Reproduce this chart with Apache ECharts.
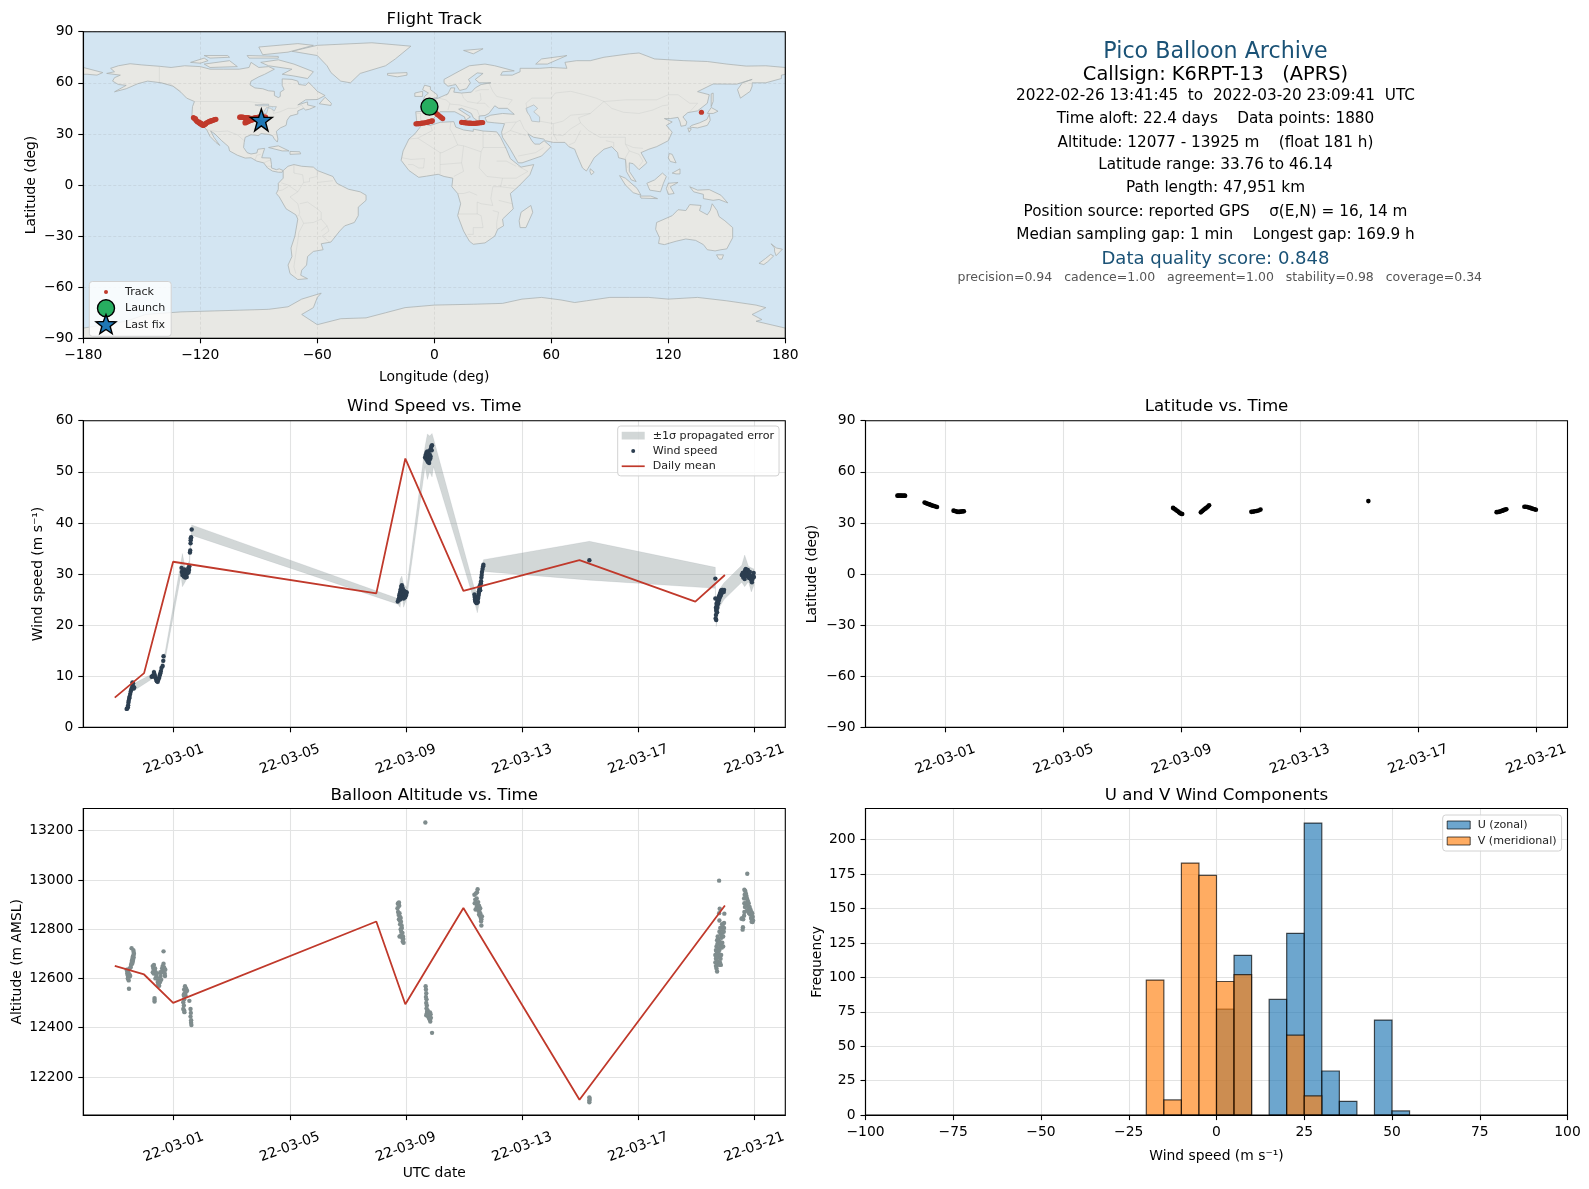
<!DOCTYPE html>
<html><head><meta charset="utf-8">
<style>html,body{margin:0;padding:0;background:#fff}#c{width:1589px;height:1189px}</style>
<script src="https://cdn.jsdelivr.net/npm/echarts@6/dist/echarts.min.js"></script></head>
<body><div id="c"></div>
<script>
// ---------- text ----------
const plotTitles = ['Flight Track','Wind Speed vs. Time','Latitude vs. Time','Balloon Altitude vs. Time','U and V Wind Components'];
const infoLines = ['Pico Balloon Archive','Callsign: K6RPT-13   (APRS)','2022-02-26 13:41:45  to  2022-03-20 23:09:41  UTC','Time aloft: 22.4 days    Data points: 1880','Altitude: 12077 - 13925 m    (float 181 h)','Latitude range: 33.76 to 46.14','Path length: 47,951 km','Position source: reported GPS    σ(E,N) = 16, 14 m','Median sampling gap: 1 min    Longest gap: 169.9 h','Data quality score: 0.848','precision=0.94   cadence=1.00   agreement=1.00   stability=0.98   coverage=0.34'];
const dateTicks = [0,4,8,12,16,20];
const dateLabels = ['22-03-01','22-03-05','22-03-09','22-03-13','22-03-17','22-03-21'];
const altTicks = [12200,12400,12600,12800,13000,13200];
const freqTicks = [0,25,50,75,100,125,150,175,200];

// ---------- map geometry (lon, lat) ----------
const landPolys = [
 [[-168,65.5],[-164,66.5],[-166,68.5],[-162,70],[-156,71.2],[-150,70.5],[-141,69.7],[-135,69],[-128,70],[-120,69.5],[-115,68],[-108,68],[-100,68],[-95,69],[-94,72],[-90,69],[-85,69.5],[-82,68],[-87,65],[-90,63.5],[-94,61],[-94.5,58.8],[-92,57],[-88,56.5],[-85,55.3],[-82,55],[-82,52.5],[-80,51.3],[-79,52],[-79,54.5],[-77,56],[-78,58.5],[-78,62.3],[-73,62],[-70,61],[-69.5,59],[-66,58.5],[-64.5,60.3],[-62,57.5],[-60,55],[-56,52.5],[-60,50.2],[-66,50],[-70,47],[-65,48.8],[-65,47],[-61,46],[-64,44.5],[-66,44],[-67,45],[-70,43.5],[-70,41.7],[-74,40.5],[-75.5,38],[-76,35],[-79,33.5],[-81,31.5],[-80.2,27],[-80.5,25.2],[-82,27],[-83,29],[-85,29.7],[-89,30.2],[-90,29],[-94,29.5],[-97,28],[-97.5,25],[-97.8,22],[-96,19],[-94,18.2],[-91,18.8],[-90.5,21],[-87,21.5],[-88,18],[-88.5,16],[-84,15.8],[-83.5,12],[-83.5,10],[-81,9],[-79.5,9.5],[-77.5,8.5],[-78,7.5],[-80,7.5],[-83,8.2],[-85.5,10],[-87.5,13],[-91,14],[-94,16],[-97,15.8],[-101,17.5],[-105,20],[-105.5,22.5],[-109,26],[-112.5,30],[-114.7,31.7],[-113,28],[-110,23.2],[-112,25],[-115,28.5],[-116.5,32],[-118,34],[-121,35],[-123,38],[-124.3,41],[-124,46],[-123,49],[-127,51],[-130,54.5],[-134,58],[-140,60],[-147,61],[-152,59.5],[-158,56.5],[-164,54.7],[-158,58.5],[-162,59],[-165,61],[-164,63],[-161,64.5]],
 [[-77.5,8.5],[-75,11],[-72,12],[-68,11],[-62,10.5],[-60,8.5],[-52,5],[-50,1],[-44,-2.5],[-38,-4],[-35,-6],[-35,-9],[-39,-13],[-39,-18],[-41,-22],[-46,-24],[-48.5,-27],[-53,-33.5],[-58,-34.5],[-57,-38],[-62,-39],[-65,-42],[-65.5,-47],[-68,-50],[-68.5,-53],[-65,-55],[-70,-55.5],[-74,-52],[-75,-47],[-73,-42],[-73.5,-37],[-71.5,-30],[-70,-20],[-71,-17.5],[-76,-14],[-79.5,-7],[-81,-5],[-80,-2.5],[-80,1],[-77.5,4]],
 [[-6,35.8],[-2,35],[3,36.8],[10,37.2],[11,34],[15,32.3],[20,31.5],[20,32.8],[25,31.7],[32,31.2],[34,28],[37,21],[39,15.5],[43,11.8],[44.5,10.5],[51,12],[49,6],[43,-1],[39,-5],[40.5,-14],[35,-20],[35.5,-24],[32.5,-26],[31,-30],[26,-34],[20,-34.8],[18,-33],[15,-27],[12,-18],[13.5,-11],[12,-5],[9,-1],[9.5,4],[5,5],[2,6.3],[-4,5.2],[-8,4.5],[-13,8.5],[-17,14.5],[-16,20],[-13,27],[-10,30]],
 [[-9,37],[-9.5,43],[-2,43.5],[-1,46],[-4.5,48.5],[2,51],[7,53.5],[8.5,57],[10.5,57],[10,54.5],[14,54],[19,54.5],[21,57],[24,59],[29,60],[23,60],[21,62],[25,65.5],[22,65.8],[17.5,62],[18.5,60],[16.5,56.5],[13,55.5],[11,59],[7,58],[5,60],[5,62],[13,67],[18,70],[26,71],[31,70],[41,67],[35,66.5],[34,64.5],[40,64.5],[44,66.5],[44,68.5],[54,68.5],[60,69],[68,68.5],[67,72],[73,73],[80,73],[87,75],[100,77],[105,77.5],[113,74],[128,73],[140,72.5],[150,71],[160,69.8],[170,70],[180,69],[180,65],[178,64.5],[178,62.5],[170,60],[163,60],[163,58],[162,55],[157,51],[155.5,56],[158,60],[163,62],[155,59.2],[143,59.3],[135,54.8],[141,53],[140,48],[135,43.5],[130,42.5],[127.5,40],[129.5,37],[129,35],[126.5,34.5],[126,37],[125,39.7],[121,39],[118,39],[122,37],[119,35],[122,31],[120,26],[114,22.5],[110,21],[106,19],[109,13],[105,9],[102,12.5],[100,13],[100,8],[103.5,2],[101,3],[98.5,8],[98,15],[94.5,16],[94,19],[91,22.5],[87,21],[82,16],[80,12],[78,8.2],[76,10],[73,18],[72,21],[69,22.5],[67,25],[61,25],[57,26],[56,27],[51,28],[48,30],[50,26],[51.5,24],[54,24],[56.3,26],[59.8,22.5],[55,17],[45,13],[43,13],[39,21],[35,28],[34.5,31],[36,36],[31,36.5],[27,37],[26,39.5],[29,41],[35,42],[41,41.5],[37.5,45],[33,45],[31,46.5],[28,42],[26,40.8],[23,40.5],[23,37],[20,39.5],[19,42],[14,45],[12.5,44.5],[18.5,40],[16,38],[15.5,40],[10.5,43],[6,43],[3,43],[0,39.5],[-2,36.8],[-5.5,36]],
 [[-73,78.5],[-60,82],[-32,83.5],[-12,81.5],[-20,74],[-25,70],[-38,65.5],[-43,60],[-48,61],[-53,66],[-55,70],[-60,76]],
 [[-80,73.5],[-72,71],[-62,66.5],[-65,62.5],[-72,64],[-78,65],[-73,68],[-85,70],[-89,72]],
 [[-118,71],[-105,73],[-101,69.5],[-115,69]],
 [[-90,81],[-70,83],[-62,82],[-75,78],[-88,76.5]],
 [[-125,72],[-118,74.5],[-116,73],[-120,71.5]],
 [[-96,76],[-80,75.5],[-80,74.5],[-95,74.5]],
 [[-118,76],[-106,76],[-105,75],[-115,74.5]],
 [[-59,47.7],[-53,46.7],[-52.8,48],[-56,51.5]],
 [[-85,22],[-80,23],[-74.5,20],[-78,20]],
 [[-74,19.7],[-69,19.5],[-68.5,18.3],[-74,18]],
 [[-5.5,50],[1.5,51.3],[1.5,53],[-2,56],[-2,57.7],[-5,58.6],[-6,56],[-3,54],[-5,52]],
 [[-10,52],[-6,52],[-6,55],[-10,54]],
 [[-24,65.5],[-14,66],[-14,64.5],[-19,63.5],[-24,64.5]],
 [[49.5,-12],[50.5,-16],[47,-25],[44,-25],[43.5,-21],[44.5,-16]],
 [[131,34],[135,33.5],[140,35],[141.5,38],[141,41.5],[139.8,38.5],[136,36.5],[132,35]],
 [[140,42],[142,45.5],[145.5,43.3],[143,42]],
 [[130,33.5],[131.8,33],[130.7,31]],
 [[142,46],[143,49],[143,54],[142,53.5],[142,50]],
 [[120.5,18.5],[122,18],[124,13],[121,13.8],[120,16]],
 [[122,7],[126,9.5],[126,6.5],[124,6.5]],
 [[95,5.5],[98,4],[104,-2],[106,-6],[102,-4.5],[98,0]],
 [[105.5,-6.5],[111,-6.5],[114.5,-8],[106,-7.7]],
 [[109,1],[113,3],[117,7],[119,5],[117.5,1],[116,-4],[110.5,-3]],
 [[120,1],[125,1.5],[121,-1],[123,-5],[120,-5.5],[119,-2]],
 [[131,-1],[135,-3],[141,-2.7],[147,-6],[150.5,-10.5],[146,-8.5],[143,-9],[138,-8],[138,-5.5],[133,-4]],
 [[80,9.5],[82,7.5],[80.5,6],[79.8,8]],
 [[144.7,-41],[148.3,-41],[147.5,-43.5],[146,-43.5]],
 [[172.7,-34.5],[175.5,-37],[178.5,-37.7],[175.3,-41.5],[174.5,-39],[174.5,-37]],
 [[172.5,-40.7],[174,-41.7],[171,-45],[169,-46.7],[166.5,-46],[170,-43]],
 [[114,-22],[113.5,-26],[115.5,-31],[115,-34.3],[118,-35],[124,-33],[129,-31.7],[134,-32.5],[138,-35],[140,-38],[144,-38.7],[147,-38],[150,-37.5],[153,-31],[153,-25],[149,-21],[146,-18.5],[145,-15],[142.5,-11],[141.5,-15],[140,-17.5],[136,-15],[136.8,-12],[131,-11.5],[129,-15],[125,-14.5],[122,-18]],
 [[-180,-84],[-158,-80],[-148,-76],[-130,-74.5],[-115,-74],[-100,-73.5],[-85,-73],[-75,-71.5],[-68,-67],[-58,-63.5],[-60,-66],[-62,-72],[-68,-76],[-60,-82],[-48,-78.5],[-35,-78],[-25,-75],[-15,-72],[0,-70.5],[20,-70],[35,-69.5],[45,-67],[55,-66],[65,-67.5],[72,-69],[78,-68],[90,-66],[100,-66],[110,-66],[120,-67],[135,-66],[150,-68],[165,-70.5],[170,-72],[163,-76],[168,-79],[165,-80],[180,-84],[180,-90],[-180,-90]],
 [[-180,69],[-175,67.5],[-170,66],[-173,64.5],[-178,65],[-180,65]],
 [[68,76],[58,71],[52,71],[55,74]],
 [[15,79],[25,80],[20,77]]
];
const waterPolys = [
 [[47,45],[51,47],[53,45],[51,43],[54,40],[54,37],[50,37.5],[49,40.5],[47.5,43]],
 [[-92,47],[-85,47.5],[-85,46.5],[-90,46.5]],
 [[-88,42],[-86,42],[-85,46],[-81,46],[-82,43.5],[-84,45],[-86,45.5]]
];
const borderLines = [
 [[-123,49],[-95,49],[-88,48],[-83,46],[-82.5,42],[-79,43],[-75,45],[-71,45],[-68,47],[-67,45]],[[-141,69.7],[-141,60],[-135,59],[-130,55]],
 [[-117,32.5],[-111,31.3],[-106,31.7],[-101,29.5],[-97.5,26]],[[-92,14.5],[-91,17.5],[-89,18]],[[-83.5,15],[-87.5,13]],[[-83.6,11],[-85.7,11]],
 [[-72,12],[-72,7],[-67.5,6],[-67,1.5],[-70,-4],[-74,-7],[-70,-11],[-69,-16],[-69.5,-18],[-70.3,-18.3]],[[-60,8],[-60,5],[-64,4],[-64,2],[-67,1.5]],[[-52,2.5],[-56,2],[-60,1.5]],[[-78.5,1.3],[-75,0],[-70,-4]],[[-80,-3.4],[-78,-3],[-75,-1]],[[-69,-11],[-65,-10],[-60,-14],[-58,-16],[-58,-20],[-55,-24],[-54,-27],[-57.5,-30],[-53.5,-33.8]],[[-69,-18],[-67,-22.5],[-69.5,-28],[-70,-33],[-71,-40],[-72,-48],[-71,-52]],[[-58,-20],[-62,-22],[-67,-22.5]],[[-58,-27],[-55,-24]],
 [[-2,35],[-1,32],[-8.5,27.5],[-13,27]],[[-8.5,27.5],[3,19],[4,19],[12,23.5],[9.5,30],[8,33],[8.5,37]],[[12,23.5],[15,23],[24,19.5],[25,22],[25,31.7]],[[25,22],[37,22]],[[-16.5,16],[-12,15],[-5,15.5],[-5.5,10],[-8,10],[-11,12],[-13.5,12]],[[3,19],[3,11.5],[3,6.5]],[[3,12],[14,13],[15,23]],[[14,13],[15,8],[10,5]],[[24,19.5],[23,10],[27,5],[35,4],[42,4],[48,8],[43,11]],[[35,4],[34,-1],[30,-1],[29,-8],[30,-12],[24,-11],[22,-10],[22,-17],[24,-18],[25,-25],[20,-25],[20,-29],[17,-29]],[[34,-1],[41,-2]],[[12,-5],[15,-5],[18,-4],[22,-6]],[[12,-17],[22,-17]],[[33,-9],[40,-11]],[[30,-15],[33,-16],[32,-22],[32,-26]],[[32,14],[37,14],[42,11]],
 [[2,51],[6,50],[8,48],[7,44]],[[-1.5,43.3],[3,42.5]],[[-9,42],[-7,42],[-7,37]],[[6,52],[7,54]],[[14,54],[15,51],[17,49],[22,48],[26,48],[28,45.5]],[[8,47.5],[13,47],[16,46],[19,45],[22,44],[23,41]],[[23.5,54],[24,50],[22,48]],[[28,56],[24,56],[21,55]],[[28,60],[30,55],[32,52],[40,50],[38,47]],
 [[48,42],[47,48],[50,51],[60,51],[62,54],[70,55],[77,53],[83,51],[87,49]],[[87,49],[98,50],[106,50],[114,50],[120,53],[125,53],[131,48],[135,48],[131,43]],[[87,49],[91,45],[97,42.7],[105,42],[112,44],[117,46.5],[120,47]],[[87,49],[80,42],[74,39.5],[75,36.5],[79,32],[85,28],[92,28],[98,28],[98,24],[102,22],[107,21.5]],[[80,42],[70,41],[66,37.5],[61,36],[54,37.5]],[[61,36],[61,30],[63,26]],[[75,36.5],[70,33],[66,29],[61,29.5]],[[75,32],[72,25],[69,23.5]],[[44,38],[46,33],[48.5,30]],[[36,36.5],[42,37],[44,38]],[[39,32],[42,37]],[[35,29.5],[39,32],[47,29]],[[43,17],[52,19],[56,22]],[[88,26],[92,25],[92,22]],[[98,24],[100,20],[98,16],[99,10]],[[100,20],[105,18],[107,14],[105,11]]
];

// ---------- data ----------
const trackPoints = [[-3.4,46],[-2.5,46],[-1.6,46],[0.9,42.2],[1.5,41.5],[2.2,40.9],[3,40.2],[3.6,39.6],[4.3,39],
 [-9.4,35.9],[-8.6,36],[-8,36],[-7.2,36.1],[-6.5,36.3],[-5.8,36.4],[-5,36.5],[-4.2,36.7],[-3.5,36.9],[-2.8,37.1],[-2,37.3],[-1.5,37.5],[-1,37.7],
 [14,36.8],[14.8,36.7],[15.5,36.6],[16.2,36.5],[17,36.4],[17.8,36.3],[18.5,36.3],[19.2,36.2],[20,36.2],[20.8,36.2],[21.5,36.3],[22.2,36.4],[23,36.5],[23.9,36.6],[24.8,36.7],
 [137,42.7],
 [-123.5,39.5],[-123,39],[-122.3,38.2],[-121.9,37.7],[-121.5,37.2],[-120.7,36.5],[-120,35.9],[-119.2,35.4],[-118.5,35],[-118,35.6],[-117.7,35.5],[-117.2,36],[-116.8,36.5],[-116,37],[-115.5,37.2],[-115,37.5],[-114.5,37.6],[-114,37.8],[-113.5,38],[-113,38.3],[-112.5,38.4],[-112,38.6],[-122.5,39],[-120.5,37],[-119.5,36.2],
 [-99.8,39.8],[-99.3,39.8],[-98.8,39.8],[-98.3,39.8],[-97.8,39.7],[-97.3,39.6],[-96.8,39.6],[-96.1,39.5],[-95.5,39.5],[-95,39.3],[-94.5,39.2],[-94,39.1],[-93.5,39],[-93,39.2],[-92.5,39.3],[-92,39.4],[-91.5,39.5],[-91,39.6],[-90.5,39.7],[-90,39.8],[-89.5,39.8],[-89,39.8],[-88.5,39.8],[-88,39.8],[-87.5,39.8],[-87,39.8],[-86.5,39.8],
 [-97,36.4],[-96.5,36.8],[-96.1,37],[-95.8,37.2],[-95.4,37.4],[-95,37.6],[-94.5,37.8],[-94,38],[-93.5,38.2],[-93,38.4],[-92.5,38.5],[-92,38.6],[-91.5,38.6],[-91,38.6],[-90.5,38.5],[-90,38.5],[-97,37],[-96,37.6],[-95,38.3]];
const launchPoint = [[-2.5,46]];
const lastFixPoint = [[-88.7,38.2]];

const windPoints = [
 [-1.62,3.6],[-1.6,3.7],[-1.58,3.9],[-1.57,4.3],[-1.56,4.8],[-1.55,5.2],[-1.53,5.7],[-1.52,6],[-1.5,6.5],[-1.48,7],[-1.46,7.4],[-1.44,7.7],[-1.42,8.2],[-1.4,8],[-1.38,7.6],[-1.36,7.8],[-1.4,8.6],[-1.42,8.8],
 [-0.76,9.9],[-0.73,10],[-0.7,10.2],[-0.68,10.8],[-0.66,10.4],[-0.64,9.9],[-0.62,9.6],[-0.6,9.3],[-0.58,9],[-0.55,8.9],[-0.53,9.3],[-0.5,9.7],[-0.48,10.2],[-0.46,10.6],[-0.44,11],[-0.42,11.6],[-0.38,12],[-0.36,13],[-0.35,13.9],
 [0.27,31.2],[0.28,30.4],[0.3,29.8],[0.32,30.7],[0.33,30],[0.35,29.5],[0.37,30.9],[0.38,30.2],[0.4,29.3],[0.42,29.8],[0.43,30.6],[0.45,29.4],[0.46,30.1],[0.48,30.6],[0.5,31],[0.51,30.3],[0.52,31.3],[0.53,30.8],[0.54,31.5],[0.56,34.2],[0.57,34.6],[0.58,36],[0.585,36.6],[0.59,37],[0.6,37.2],[0.62,38.7],
 [7.72,24.6],[7.74,24.9],[7.76,25.2],[7.77,25.8],[7.78,25.4],[7.79,26.2],[7.8,25],[7.81,26.6],[7.82,27],[7.83,25.6],[7.84,27.5],[7.85,26.2],[7.86,27.8],[7.87,25.3],[7.88,26.8],[7.89,27.2],[7.9,25.7],[7.91,26.4],[7.92,25.2],[7.93,26],[7.94,26.7],[7.95,25.4],[7.96,26.2],[7.98,25.5],[7.99,26.5],[8.01,25.9],[8.03,26.4],
 [8.66,52.8],[8.68,53.3],[8.7,52.5],[8.71,53.8],[8.72,53],[8.73,52.2],[8.74,54],[8.75,53.2],[8.76,51.9],[8.77,52.6],[8.78,53.6],[8.79,52.9],[8.8,51.7],[8.81,52.3],[8.82,53.4],[8.83,54.2],[8.84,52.6],[8.85,53],[8.86,54.5],[8.88,55],[8.89,54.2],[8.9,55.2],
 [10.36,26],[10.37,25.5],[10.38,25],[10.39,24.6],[10.4,24.8],[10.41,25.3],[10.42,24.4],[10.43,24.9],[10.44,24.3],[10.45,25.5],[10.46,24.6],[10.47,25],[10.48,24.5],[10.49,25.3],[10.5,25.8],[10.51,26.2],[10.52,26.6],[10.53,27],[10.54,27.6],[10.55,27.3],[10.56,26.8],[10.57,27.8],[10.58,28.2],[10.59,28.6],[10.6,29.3],[10.61,29.8],[10.62,30.4],[10.64,31],[10.66,31.5],[10.67,31.8],
 [14.32,32.7],
 [18.66,29.1],[18.66,25.2],[18.67,21.3],[18.69,21],[18.68,22],[18.69,22.8],[18.68,23.4],[18.7,23],[18.71,23.8],[18.7,24.2],[18.72,22.5],[18.72,24.4],[18.73,23.4],[18.74,24],[18.74,24.8],[18.75,25.1],[18.76,24.3],[18.77,25.4],[18.78,24.8],[18.79,25.7],[18.8,25.2],[18.81,25.8],[18.82,26.2],[18.83,25.6],[18.84,26.4],[18.85,25.9],[18.86,26.8],[18.87,26.2],[18.88,26.7],[18.89,26.9],[18.9,26.4],[18.91,26.9],[18.95,26.5],[18.96,26.9],
 [19.57,29.8],[19.6,30.2],[19.62,29.3],[19.64,29.7],[19.66,30.4],[19.67,29],[19.69,30.8],[19.7,30],[19.71,31],[19.73,30.4],[19.74,29.6],[19.76,30.2],[19.78,30.8],[19.8,30],[19.82,29.2],[19.83,29.8],[19.85,30.4],[19.87,29.6],[19.9,28.8],[19.92,28.4],[19.94,29],[19.96,29.6],[19.98,30.2],[19.99,29.4]];
const bandTimes = [-1.62,-1.5,-1.4,-1.36,-0.76,-0.68,-0.55,-0.35,-0.3,0.25,0.3,0.4,0.54,0.56,0.6,0.62,7.72,7.8,7.86,7.92,8.03,8.66,8.74,8.82,8.9,8.95,10.36,10.46,10.55,10.67,14.32,18.66,18.665,18.69,18.8,18.96,19.57,19.67,19.8,19.9,19.99];
const bandLow  = [3.2,6,7.3,7.2,9.4,9.9,8.4,12.4,13,29.7,27.5,28.5,30.3,33.2,36.5,37.6,24.1,23.5,26,23.5,25.2,51,48.5,50,49,51,24.6,22.4,25,30.5,28.8,27.2,23.3,19.7,23.5,25,28.4,27.5,28.5,26.5,27.8];
const bandHigh = [4,7,9,8.6,10.4,11.4,9.5,14.2,14.6,32.3,34,31,32.6,35.2,38,39.6,25.2,29,29.6,28,27.4,55,57.4,57,57.5,56.5,27.2,26.5,29,32.8,36.4,31.3,27,22.8,27,28.3,31.7,33.7,31.5,31.2,31];
const meanDays  = [-2.03,-1.02,-0.02,6.98,7.98,9.98,13.98,17.97,18.99];
const meanWind  = [5.8,10.6,32.4,26.2,52.6,26.7,32.7,24.6,29.8];
const meanAltDays = [-2.03,-1.02,-0.02,6.98,7.98,9.98,13.98,18.99];
const meanAlt   = [12651,12616,12501,12831,12495,12886,12107,12896];

const latPoints = [
 [-1.62,46],[-1.58,46],[-1.54,46.1],[-1.5,46],[-1.46,46],[-1.42,45.9],[-1.38,46],[-1.36,45.9],
 [-0.7,42],[-0.66,41.7],[-0.62,41.4],[-0.58,41.1],[-0.54,40.9],[-0.5,40.6],[-0.46,40.4],[-0.42,40.1],[-0.38,39.9],[-0.33,39.6],[-0.28,39.3],
 [0.28,37.2],[0.32,37],[0.36,36.8],[0.4,36.5],[0.44,36.5],[0.48,36.5],[0.52,36.6],[0.56,36.7],[0.6,36.8],[0.63,36.8],
 [7.71,38.8],[7.75,38.3],[7.79,37.8],[7.83,37.3],[7.87,36.8],[7.91,36.2],[7.95,35.7],[7.99,35.3],[8.02,35.2],
 [8.65,36.2],[8.69,36.8],[8.73,37.4],[8.77,38],[8.81,38.5],[8.85,39],[8.89,39.6],[8.93,40.4],
 [10.36,36.5],[10.42,36.6],[10.48,36.8],[10.54,37],[10.6,37.3],[10.67,37.8],
 [14.32,42.8],
 [18.66,36.3],[18.7,36.4],[18.74,36.5],[18.78,36.7],[18.82,37],[18.86,37.2],[18.9,37.5],[18.95,37.8],[18.99,38],
 [19.6,39.5],[19.65,39.5],[19.7,39.3],[19.75,39],[19.8,38.8],[19.85,38.5],[19.9,38.2],[19.95,38],[19.99,37.7]];

const altPoints = [
 [-1.45,12723],[-1.39,12715],[-1.38,12707],[-1.37,12700],[-1.39,12693],[-1.41,12688],[-1.38,12685],[-1.42,12680],[-1.4,12676],[-1.44,12672],[-1.41,12668],[-1.45,12663],[-1.43,12660],[-1.47,12655],[-1.62,12635],[-1.6,12630],[-1.57,12625],[-1.6,12620],[-1.55,12618],[-1.58,12612],[-1.5,12610],[-1.55,12605],[-1.58,12600],[-1.55,12592],[-1.52,12615],[-1.54,12558],[-1.48,12645],[-1.52,12640],[-1.56,12635],
 [-0.35,12710],[-0.72,12650],[-0.7,12640],[-0.68,12655],[-0.66,12630],[-0.72,12625],[-0.69,12620],[-0.64,12640],[-0.62,12625],[-0.6,12610],[-0.63,12600],[-0.58,12620],[-0.56,12600],[-0.55,12585],[-0.53,12575],[-0.5,12570],[-0.52,12590],[-0.48,12600],[-0.47,12585],[-0.45,12610],[-0.43,12595],[-0.42,12625],[-0.4,12640],[-0.38,12650],[-0.37,12630],[-0.35,12660],[-0.33,12645],[-0.31,12620],[-0.29,12635],[-0.3,12610],[-0.46,12625],[-0.66,12520],[-0.66,12506],[-0.66,12513],
 [0.39,12568],[0.36,12555],[0.43,12558],[0.46,12550],[0.42,12545],[0.38,12540],[0.35,12530],[0.41,12530],[0.36,12515],[0.33,12503],[0.35,12490],[0.33,12476],[0.36,12470],[0.37,12463],[0.54,12509],[0.58,12476],[0.59,12460],[0.58,12445],[0.6,12430],[0.6,12420],[0.61,12411],[0.35,12535],
 [7.72,12903],[7.74,12905],[7.76,12908],[7.71,12885],[7.73,12870],[7.77,12895],[7.75,12858],[7.78,12865],[7.8,12850],[7.76,12840],[7.79,12835],[7.82,12845],[7.8,12820],[7.83,12830],[7.85,12815],[7.82,12800],[7.86,12805],[7.84,12790],[7.78,12770],[7.83,12775],[7.88,12785],[7.87,12765],[7.9,12770],[7.89,12750],[7.91,12760],[7.92,12745],
 [8.68,12568],[8.69,12555],[8.7,12540],[8.69,12525],[8.71,12515],[8.7,12500],[8.72,12490],[8.71,12478],[8.73,12465],[8.72,12458],[8.75,12470],[8.78,12460],[8.74,12450],[8.77,12445],[8.8,12455],[8.83,12462],[8.79,12440],[8.82,12445],[8.85,12455],[8.81,12435],[8.84,12425],[8.83,12432],[8.9,12379],[8.67,13233],[8.7,12450],[8.86,12440],
 [10.47,12962],[10.45,12950],[10.36,12940],[10.41,12945],[10.39,12920],[10.44,12925],[10.37,12905],[10.42,12905],[10.46,12900],[10.49,12910],[10.44,12890],[10.48,12888],[10.4,12880],[10.52,12895],[10.5,12875],[10.54,12870],[10.56,12885],[10.52,12860],[10.55,12855],[10.57,12862],[10.58,12845],[10.6,12840],[10.59,12832],[10.6,12815],[10.62,12852],
 [14.32,12117],[14.32,12104],[14.32,12097],[14.33,12110],
 [18.79,12997],[18.81,12883],[18.79,12865],[18.97,12863],[18.96,12825],[18.8,12835],[18.72,12628],[18.68,12650],[18.66,12665],[18.7,12640],[18.72,12660],[18.68,12680],[18.66,12695],[18.7,12710],[18.72,12690],[18.74,12670],[18.74,12705],[18.68,12715],[18.7,12730],[18.73,12740],[18.76,12720],[18.78,12700],[18.8,12685],[18.82,12665],[18.85,12655],[18.79,12655],[18.84,12680],[18.86,12695],[18.8,12715],[18.83,12730],[18.78,12745],[18.76,12760],[18.74,12770],[18.81,12750],[18.85,12740],[18.88,12725],[18.9,12745],[18.87,12765],[18.84,12780],[18.8,12790],[18.83,12805],[18.87,12800],[18.91,12785],[18.93,12770],[18.95,12790],[18.92,12810],[18.96,12805],[18.89,12820],[18.93,12730],[18.72,12755],[18.7,12690],
 [19.76,13025],[19.66,12960],[19.69,12955],[19.71,12945],[19.67,12940],[19.73,12935],[19.65,12925],[19.7,12925],[19.75,12925],[19.78,12915],[19.66,12905],[19.72,12905],[19.76,12895],[19.81,12905],[19.68,12890],[19.84,12890],[19.79,12880],[19.75,12875],[19.87,12880],[19.9,12870],[19.82,12865],[19.86,12860],[19.91,12855],[19.93,12865],[19.95,12850],[19.92,12840],[19.89,12845],[19.96,12835],[19.94,12829],[19.91,12830],[19.65,12855],[19.62,12840],[19.58,12845],[19.56,12842],[19.61,12808],[19.6,12798],[19.66,12870]];

const binEdges = [-20,-15,-10,-5,0,5,10,15,20,25,30,35,40,45,50,55];
const uCounts = [0,0,0,0,77,116,0,84,132,212,32,10,0,69,3];
const vCounts = [98,11,183,174,97,102,0,0,58,14,0,0,0,0,0];

// ---------- layout ----------
const AX_W = 702, AX_H = 306.6, L1 = 83.3, L2 = 865.5;
const tops = [31.7, 420.7, 808.5];
const grids = [[L1,tops[0]],[L1,tops[1]],[L2,tops[1]],[L1,tops[2]],[L2,tops[2]]];
const FONT = 'DejaVu Sans';
const TICK = 13.89;
const minusFmt = v => String(v).replace('-', '\u2212');

function axisBase(extra){
  const isY = extra.isY; delete extra.isY;
  return Object.assign({
    type:'value', nameLocation:'middle', scale:true,
    nameTextStyle:{fontFamily:FONT,fontSize:TICK,color:'#000'},
    axisLine:{show:true,onZero:false,lineStyle:{color:'#000',width:1.1}},
    axisTick:{show:true,length:5,lineStyle:{color:'#000',width:1.1}},
    axisLabel:{fontFamily:FONT,fontSize:TICK,color:'#000',margin:10,padding:isY?[5,0,0,0]:0,showMinLabel:true,showMaxLabel:true,hideOverlap:false,formatter:minusFmt},
    splitLine:{show:true,lineStyle:{color:'#e2e3e3',width:1.1}}
  }, extra);
}
function dateAxis(gridIndex,min,max,name,gap){
  const a = axisBase({gridIndex,min,max,name:name||'',nameGap:gap||0});
  a.axisTick = Object.assign({}, a.axisTick, {customValues:dateTicks});
  a.axisLabel = Object.assign({}, a.axisLabel, {customValues:dateTicks,rotate:20,align:'center',verticalAlign:'middle',margin:32,
    formatter:v=>dateLabels[dateTicks.indexOf(v)]});
  return a;
}
function customTickAxis(base,ticks){
  const a = axisBase(base);
  a.axisTick = Object.assign({}, a.axisTick, {customValues:ticks});
  a.axisLabel = Object.assign({}, a.axisLabel, {customValues:ticks});
  return a;
}
const mapSplit = {show:true,lineStyle:{color:'rgba(128,128,128,0.18)',width:0.8,type:[3,2]}};

const xAxes = [
  axisBase({gridIndex:0,min:-180,max:180,interval:60,name:'Longitude (deg)',nameGap:32,splitLine:mapSplit,z:2}),
  dateAxis(1,-3.114,21.07),
  dateAxis(2,-2.7,21.06),
  dateAxis(3,-3.114,21.07,'UTC date',51),
  axisBase({gridIndex:4,min:-100,max:100,interval:25,name:'Wind speed (m s\u207B\u00B9)',nameGap:34})
];
const yAxes = [
  axisBase({isY:true,gridIndex:0,min:-90,max:90,interval:30,name:'Latitude (deg)',nameGap:45,splitLine:mapSplit,z:2}),
  axisBase({isY:true,gridIndex:1,min:0,max:60,interval:10,name:'Wind speed (m s\u207B\u00B9)',nameGap:38}),
  axisBase({isY:true,gridIndex:2,min:-90,max:90,interval:30,name:'Latitude (deg)',nameGap:46}),
  customTickAxis({isY:true,gridIndex:3,min:12045,max:13290,name:'Altitude (m AMSL)',nameGap:59},altTicks),
  customTickAxis({isY:true,gridIndex:4,min:0,max:222.6,name:'Frequency',nameGap:41},freqTicks)
];

// ---------- series helpers ----------
function polySeries(polys,idx,style,z,closed,name){
  return {type:'custom',name:name||'',xAxisIndex:idx,yAxisIndex:idx,coordinateSystem:'cartesian2d',clip:true,z,silent:true,
    data:polys.map((p,i)=>[p[0][0],p[0][1],i]),
    encode:{x:0,y:1},
    renderItem(params,api){
      const pts = polys[api.value(2)].map(p=>api.coord(p));
      return {type:closed?'polygon':'polyline',shape:{points:pts},style:Object.assign({},style),silent:true};
    }};
}
function frameSeries(idx,xr,yr){
  return {type:'custom',xAxisIndex:idx,yAxisIndex:idx,clip:false,z:20,silent:true,data:[[xr[0],yr[0]]],encode:{x:0,y:1},
    renderItem(params,api){
      const a=api.coord([xr[0],yr[1]]),b=api.coord([xr[1],yr[0]]);
      return {type:'rect',shape:{x:a[0],y:a[1],width:b[0]-a[0],height:b[1]-a[1]},style:{fill:'none',stroke:'#000',lineWidth:1.1},silent:true};
    }};
}
function scatter(name,idx,data,size,color,z,extra){
  return Object.assign({type:'scatter',name,xAxisIndex:idx,yAxisIndex:idx,data,symbolSize:size,z,silent:true,clip:true,
    itemStyle:{color,opacity:1}},extra||{});
}
function meanLine(name,idx,xs,ys){
  return {type:'line',name,xAxisIndex:idx,yAxisIndex:idx,data:xs.map((x,i)=>[x,ys[i]]),showSymbol:false,symbol:'none',z:5,silent:true,
    lineStyle:{color:'#c0392b',width:1.8},itemStyle:{color:'#c0392b'}};
}
function histSeries(name,counts,fill,z){
  const items = counts.map((c,i)=>[binEdges[i],binEdges[i+1],c]).filter(d=>d[2]>0);
  return {type:'custom',name,xAxisIndex:4,yAxisIndex:4,z,silent:true,clip:true,data:items,encode:{x:[0,1],y:2},
    itemStyle:{color:fill},
    renderItem(params,api){
      const a=api.coord([api.value(0),api.value(2)]),b=api.coord([api.value(1),0]);
      return {type:'rect',shape:{x:a[0],y:a[1],width:b[0]-a[0],height:b[1]-a[1]},style:{fill:fill,stroke:'rgba(0,0,0,0.68)',lineWidth:1.2}};
    }};
}
const starPath = 'M50 0L61.8 35.1L98.5 35.5L69 57.6L79.4 93L50 72L20.6 93L31 57.6L1.5 35.5L38.2 35.1Z';
const starSymbol = 'path://'+starPath;
const OCEAN = '#d3e5f2', LAND = '#e8e8e4', COAST = 'rgba(170,176,176,0.85)';

function circlePath(cx,cy,r){return `M${cx-r} ${cy}A${r} ${r} 0 1 0 ${cx+r} ${cy}A${r} ${r} 0 1 0 ${cx-r} ${cy}Z`;}
function boxed(w,h,body){return `path://M0 0M${w} ${h}${body}`;}
function starIn(cx,cy,r){ // star outline inside a legend box
  const pts=[];for(let i=0;i<10;i++){const a=-Math.PI/2+i*Math.PI/5,q=i%2?r*0.42:r;pts.push((cx+q*Math.cos(a)).toFixed(2)+' '+(cy+q*Math.sin(a)).toFixed(2));}
  return 'M'+pts.join('L')+'Z';
}
const legendBase = {selectedMode:false,orient:'vertical',backgroundColor:'rgba(255,255,255,0.82)',borderColor:'#d2d2d2',borderWidth:1,borderRadius:3,z:15,
  textStyle:{fontFamily:FONT,fontSize:11.1,color:'#222'}};

const titles = plotTitles.map((t,i)=>({text:t,left:grids[i][0]+AX_W/2,top:[19.5,407,407,796,796][i],padding:0,textAlign:'center',textVerticalAlign:'middle',
  textStyle:{fontFamily:FONT,fontSize:16.67,fontWeight:'normal',color:'#000'}}));
const infoY = [52.6,74.9,96.2,119.5,142.8,165,188.3,211.6,234.9,259.2,278];
const infoSize = [22.2,19.4,15.28,15.28,15.28,15.28,15.28,15.28,15.28,18.05,12.5];
const infoColor = ['#1a5276','#000','#000','#000','#000','#000','#000','#000','#000','#1a5276','#555'];
const infoX = [1215.5,1215.5,1215.5,1215.5,1215.5,1215.5,1215.5,1215.5,1215.5,1215.5,1219.8];
infoLines.forEach((t,i)=>titles.push({text:t,left:infoX[i],top:infoY[i],padding:0,textAlign:'center',textVerticalAlign:'middle',
  textStyle:{fontFamily:FONT,fontSize:infoSize[i],fontWeight:'normal',color:infoColor[i]}}));

const option = {
  animation:false, backgroundColor:'#fff',
  title:titles,
  grid:grids.map((g,i)=>({left:g[0],top:g[1],width:AX_W,height:AX_H,containLabel:false,show:true,borderWidth:0,backgroundColor:i===0?OCEAN:'#fff'})),
  xAxis:xAxes, yAxis:yAxes,
  legend:[
    Object.assign({},legendBase,{left:89.3,top:281.5,padding:[0,6,0,3],itemWidth:27,itemHeight:21,itemGap:-5.5,
      data:[
        {name:'Track',icon:boxed(27,21,circlePath(13,10.5,2)),itemStyle:{color:'#c0392b',borderWidth:0,opacity:1}},
        {name:'Launch',icon:boxed(27,21,circlePath(13,10.5,8.5)),itemStyle:{color:'#27ae60',borderColor:'#000',borderWidth:1.4,opacity:1}},
        {name:'Last fix',icon:boxed(27,21,starIn(13,10.5,10.5)),itemStyle:{color:'#1f77b4',borderColor:'#000',borderWidth:1.4,opacity:1}}
      ]}),
    Object.assign({},legendBase,{left:617.7,top:426,padding:[2,5,2,4],itemWidth:26,itemHeight:15.3,itemGap:0,
      data:[
        {name:'\u00B11\u03C3 propagated error',icon:boxed(26,15.3,'M0 3.8L23 3.8L23 11.5L0 11.5Z'),itemStyle:{color:'rgba(127,140,141,0.35)',borderWidth:0}},
        {name:'Wind speed',icon:boxed(26,15.3,circlePath(11.5,7.65,2)),itemStyle:{color:'#2c3e50',borderWidth:0,opacity:1}},
        {name:'Daily mean',icon:boxed(26,15.3,'M0 6.8L23 6.8L23 8.5L0 8.5Z'),itemStyle:{color:'#c0392b',borderWidth:0}}
      ]}),
    Object.assign({},legendBase,{left:1442.7,top:815,padding:[2,5,2,4],itemWidth:25.5,itemHeight:15,itemGap:0,
      data:[
        {name:'U (zonal)',icon:boxed(25.5,15,'M0 3.5L23 3.5L23 11.5L0 11.5Z'),itemStyle:{color:'rgba(31,119,180,0.65)',borderColor:'rgba(0,0,0,0.68)',borderWidth:1}},
        {name:'V (meridional)',icon:boxed(25.5,15,'M0 3.5L23 3.5L23 11.5L0 11.5Z'),itemStyle:{color:'rgba(255,127,14,0.65)',borderColor:'rgba(0,0,0,0.68)',borderWidth:1}}
      ]})
  ],
  series:[
    polySeries(landPolys,0,{fill:LAND,stroke:COAST,lineWidth:0.9},1,true),
    polySeries(waterPolys,0,{fill:OCEAN,stroke:COAST,lineWidth:0.7},1,true),
    polySeries(borderLines,0,{fill:'none',stroke:'rgba(170,175,175,0.25)',lineWidth:0.8},1,false),
    scatter('Track',0,trackPoints,5.2,'#c0392b',6),
    scatter('Launch',0,launchPoint,17,'#27ae60',7,{itemStyle:{color:'#27ae60',borderColor:'#000',borderWidth:1.4,opacity:1}}),
    scatter('Last fix',0,lastFixPoint,22,'#1f77b4',8,{symbol:starSymbol,itemStyle:{color:'#1f77b4',borderColor:'#000',borderWidth:1.4,opacity:1}}),
    frameSeries(0,[-180,180],[-90,90]),

    {type:'custom',name:'\u00B11\u03C3 propagated error',xAxisIndex:1,yAxisIndex:1,z:3,silent:true,clip:true,
      data:[[bandTimes[0],bandLow[0]]],encode:{x:0,y:1},itemStyle:{color:'rgba(127,140,141,0.35)'},
      renderItem(params,api){
        const up=bandTimes.map((t,i)=>api.coord([t,bandHigh[i]]));
        const dn=bandTimes.map((t,i)=>api.coord([t,bandLow[i]])).reverse();
        return {type:'polygon',shape:{points:up.concat(dn)},style:{fill:'rgba(127,140,141,0.35)',stroke:'rgba(127,140,141,0.2)',lineWidth:0.6}};
      }},
    scatter('Wind speed',1,windPoints,4.4,'#2c3e50',4),
    meanLine('Daily mean',1,meanDays,meanWind),
    frameSeries(1,[-3.114,21.07],[0,60]),

    scatter('Latitude',2,latPoints,4.6,'#000',4),
    frameSeries(2,[-2.7,21.06],[-90,90]),

    scatter('Altitude',3,altPoints,4.4,'#7f8c8d',4),
    meanLine('Altitude daily mean',3,meanAltDays,meanAlt),
    frameSeries(3,[-3.114,21.07],[12045,13290]),

    histSeries('U (zonal)',uCounts,'rgba(31,119,180,0.65)',3),
    histSeries('V (meridional)',vCounts,'rgba(255,127,14,0.65)',4),
    frameSeries(4,[-100,100],[0,222.6])
  ]
};
const chart = echarts.init(document.getElementById('c'),null,{renderer:'canvas',width:1589,height:1189});
chart.setOption(option);
</script></body></html>
